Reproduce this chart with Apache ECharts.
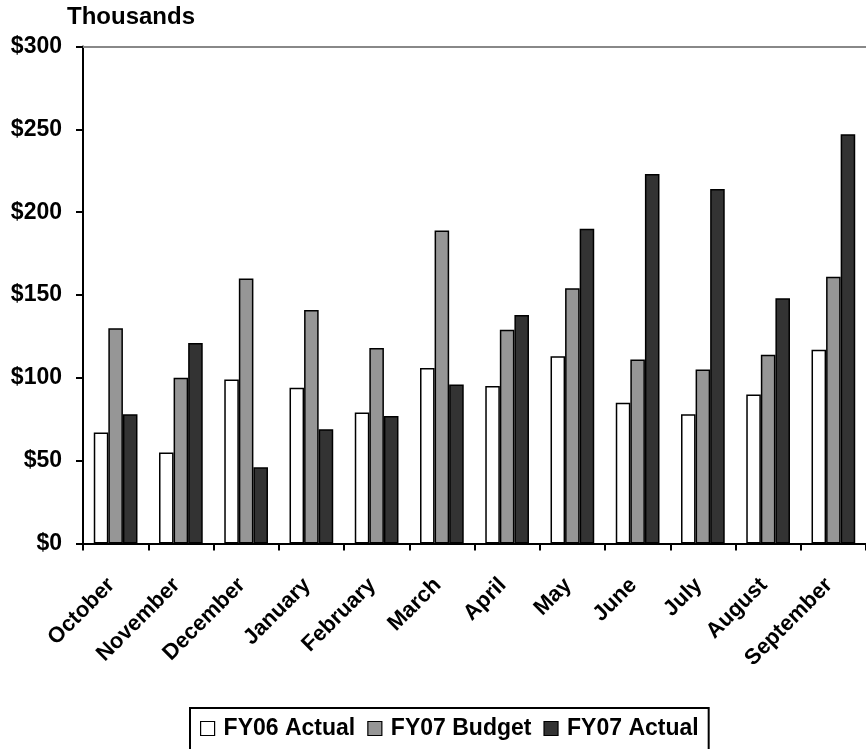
<!DOCTYPE html>
<html>
<head>
<meta charset="utf-8">
<script src="https://cdn.jsdelivr.net/npm/echarts@6/dist/echarts.min.js"></script>
<style>
html,body{margin:0;padding:0;background:#fff;}
#c{width:866px;height:749px;}
</style>
</head>
<body>
<div id="c"></div>
<script>
var months = ['October','November','December','January','February','March','April','May','June','July','August','September'];
var fy06Actual = [67, 55, 99, 94, 79, 106, 95, 113, 85, 78, 90, 117];
var fy07Budget = [130, 100, 160, 141, 118, 189, 129, 154, 111, 105, 114, 161];
var fy07Actual = [78, 121, 46, 69, 77, 96, 138, 190, 223, 214, 148, 247];
var seriesNames = ['FY06 Actual', 'FY07 Budget', 'FY07 Actual'];
var yTicks = [0, 50, 100, 150, 200, 250, 300];

var FONT = 'Arial, "Liberation Sans", sans-serif';
var chart = echarts.init(document.getElementById('c'), null, {renderer: 'canvas'});

function barSeries(name, data, color) {
  return {
    name: name, type: 'bar', data: data,
    barGap: '0%', barCategoryGap: '33%',
    itemStyle: {color: color, borderColor: '#000', borderWidth: 1.5},
    emphasis: {disabled: true}
  };
}

chart.setOption({
  backgroundColor: '#fff',
  animation: false,
  graphic: [{
    type: 'text', left: 67, top: 5,
    style: {text: 'Thousands', font: 'bold 24px ' + FONT, fill: '#000'}
  }],
  legend: {
    data: seriesNames,
    left: 190, top: 708,
    orient: 'horizontal',
    borderColor: '#000', borderWidth: 2,
    padding: [9, 10, 24, 10],
    itemWidth: 14, itemHeight: 14, itemGap: 12,
    icon: 'rect',
    itemStyle: {borderColor: '#000', borderWidth: 1.2},
    textStyle: {fontFamily: FONT, fontWeight: 'bold', fontSize: 23, color: '#000', padding: [0, 0, 0, 4]},
    selectedMode: false
  },
  grid: {left: 83, top: 46.5, width: 792, height: 497, containLabel: false},
  xAxis: [{
    type: 'category', data: months, position: 'bottom',
    axisLine: {show: true, lineStyle: {color: '#000', width: 2}},
    axisTick: {show: true, length: 7, lineStyle: {color: '#000', width: 2}},
    axisLabel: {rotate: 45, margin: 34, interval: 0, padding: [0, 6, 0, 0],
      fontFamily: FONT, fontWeight: 'bold', fontSize: 22, color: '#000'},
    splitLine: {show: false}
  }, {
    type: 'category', data: months, position: 'top',
    axisLine: {show: true, lineStyle: {color: '#888', width: 2}},
    axisTick: {show: false}, axisLabel: {show: false}, splitLine: {show: false}
  }],
  yAxis: {
    type: 'value', min: yTicks[0], max: yTicks[yTicks.length - 1], interval: 50,
    axisLine: {show: true, lineStyle: {color: '#000', width: 2}},
    axisTick: {show: true, length: 7, lineStyle: {color: '#000', width: 2}},
    axisLabel: {margin: 21, fontFamily: FONT, fontWeight: 'bold', fontSize: 23, color: '#000',
      formatter: function (v) { return '$' + v; }},
    splitLine: {show: false}
  },
  series: [
    barSeries(seriesNames[0], fy06Actual, '#ffffff'),
    barSeries(seriesNames[1], fy07Budget, '#969696'),
    barSeries(seriesNames[2], fy07Actual, '#333333')
  ]
});
</script>
</body>
</html>
